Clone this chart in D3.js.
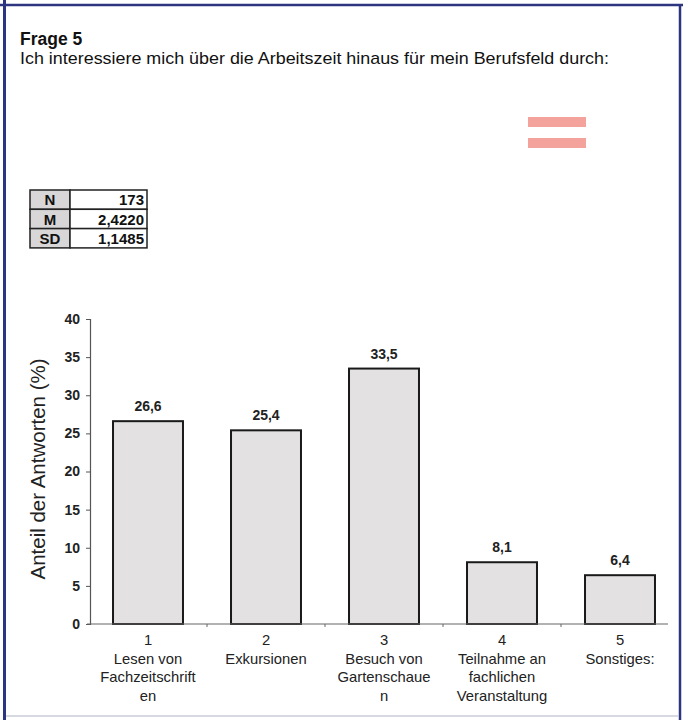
<!DOCTYPE html>
<html lang="de">
<head>
<meta charset="UTF-8">
<title>Frage 5</title>
<style>
  body { margin: 0; background: #fff; }
  svg { display: block; font-family: "Liberation Sans", Arial, sans-serif; }
  .tick-y text { font-size: 14px; font-weight: bold; fill: #222; }
  .vals text { font-size: 14px; font-weight: bold; fill: #222; }
  .cats text { font-size: 14.8px; fill: #222; }
  .stats text { font-size: 15px; font-weight: bold; fill: #111; }
</style>
</head>
<body>
<script src="https://cdn.jsdelivr.net/npm/d3@7"></script>
<script>
// data
var codes = ["1", "2", "3", "4", "5"];
var labels = [
  ["Lesen von", "Fachzeitschrift", "en"],
  ["Exkursionen"],
  ["Besuch von", "Gartenschaue", "n"],
  ["Teilnahme an", "fachlichen", "Veranstaltung"],
  ["Sonstiges:"]
];
var values = [26.6, 25.4, 33.5, 8.1, 6.4];
var yTicks = [0, 5, 10, 15, 20, 25, 30, 35, 40];
var statNames = ["N", "M", "SD"];
var statValues = ["173", "2,4220", "1,1485"];

var W = 683, H = 720;
var fmt = function(v) { return d3.format(".1f")(v).replace(".", ","); };

var svg = d3.select("body").append("svg").attr("width", W).attr("height", H);
svg.append("rect").attr("width", W).attr("height", H).attr("fill", "#fff");

// frame
var blue = "#2e3580";
svg.append("line").attr("x1", 0).attr("x2", W).attr("y1", 5).attr("y2", 5)
  .attr("stroke", blue).attr("stroke-width", 2.5);
svg.append("line").attr("x1", 4.5).attr("x2", 4.5).attr("y1", 0).attr("y2", H)
  .attr("stroke", blue).attr("stroke-width", 3);
svg.append("line").attr("x1", 680).attr("x2", 680).attr("y1", 6).attr("y2", H)
  .attr("stroke", blue).attr("stroke-width", 2.5);
svg.append("line").attr("x1", 6).attr("x2", 679).attr("y1", 716).attr("y2", 716)
  .attr("stroke", "#c9ccd8").attr("stroke-width", 1.5);

// title
svg.append("text").attr("x", 20).attr("y", 45)
  .style("font-size", "17.5px").style("font-weight", "bold").attr("fill", "#111")
  .text("Frage 5");
svg.append("text").attr("x", 20).attr("y", 64)
  .style("font-size", "17px").attr("fill", "#111")
  .attr("textLength", 589).attr("lengthAdjust", "spacingAndGlyphs")
  .text("Ich interessiere mich über die Arbeitszeit hinaus für mein Berufsfeld durch:");

// pink marks
svg.append("rect").attr("x", 528).attr("y", 117).attr("width", 58).attr("height", 10).attr("fill", "#f3a39b");
svg.append("rect").attr("x", 528).attr("y", 138).attr("width", 58).attr("height", 10).attr("fill", "#f3a39b");

// stats table
var stats = svg.append("g").attr("class", "stats");
var rowH = 19.3, tx = 30, ty = 190, c1 = 40, c2 = 77;
statNames.forEach(function(n, i) {
  var y0 = ty + i * rowH;
  stats.append("rect").attr("x", tx).attr("y", y0).attr("width", c1).attr("height", rowH)
    .attr("fill", "#d8d6d6").attr("stroke", "#222").attr("stroke-width", 1.5);
  stats.append("rect").attr("x", tx + c1).attr("y", y0).attr("width", c2).attr("height", rowH)
    .attr("fill", "#fff").attr("stroke", "#222").attr("stroke-width", 1.5);
  stats.append("text").attr("x", tx + c1 / 2).attr("y", y0 + rowH - 4)
    .attr("text-anchor", "middle").text(n);
  stats.append("text").attr("x", tx + c1 + c2 - 3).attr("y", y0 + rowH - 4)
    .attr("text-anchor", "end").text(statValues[i]);
});

// chart
var x = d3.scaleBand().domain(codes).range([89, 679]).paddingInner(0.407).paddingOuter(0.2035);
var y = d3.scaleLinear().domain([0, 40]).range([624, 319]);

var bars = svg.append("g");
bars.selectAll("rect").data(values).join("rect")
  .attr("x", function(d, i) { return x(codes[i]); })
  .attr("y", function(d) { return y(d); })
  .attr("width", x.bandwidth())
  .attr("height", function(d) { return y(0) - y(d); })
  .attr("fill", "#e3e1e1").attr("stroke", "#1a1a1a").attr("stroke-width", 2);

var vals = svg.append("g").attr("class", "vals");
vals.selectAll("text").data(values).join("text")
  .attr("x", function(d, i) { return x(codes[i]) + x.bandwidth() / 2; })
  .attr("y", function(d) { return y(d) - 10; })
  .attr("text-anchor", "middle").text(fmt);

// y axis
var yAxis = svg.append("g").attr("class", "tick-y").attr("transform", "translate(90,0)")
  .call(d3.axisLeft(y).tickValues(yTicks).tickSize(4).tickPadding(6));
yAxis.select(".domain").attr("stroke", "#555").attr("stroke-width", 1.2);
yAxis.selectAll(".tick line").attr("stroke", "#555");

// x axis
var ax = svg.append("g");
ax.append("line").attr("x1", 87).attr("x2", 668).attr("y1", y(0)).attr("y2", y(0))
  .attr("stroke", "#666").attr("stroke-width", 1.2);
ax.selectAll("line.t").data(codes.slice(1)).join("line").attr("class", "t")
  .attr("x1", function(d) { return x(d) - x.step() * x.paddingInner() / 2; })
  .attr("x2", function(d) { return x(d) - x.step() * x.paddingInner() / 2; })
  .attr("y1", y(0)).attr("y2", y(0) + 3).attr("stroke", "#666");

var cats = svg.append("g").attr("class", "cats");
codes.forEach(function(c, i) {
  var cx = x(c) + x.bandwidth() / 2;
  var lines = [c].concat(labels[i]);
  cats.selectAll(null).data(lines).join("text")
    .attr("x", cx).attr("y", function(d, j) { return 645 + j * 18.6; })
    .attr("text-anchor", "middle").text(function(d) { return d; });
});

svg.append("text")
  .attr("transform", "translate(45,469) rotate(-90)")
  .attr("text-anchor", "middle").style("font-size", "20.5px").attr("fill", "#222")
  .text("Anteil der Antworten (%)");
</script>
</body>
</html>
